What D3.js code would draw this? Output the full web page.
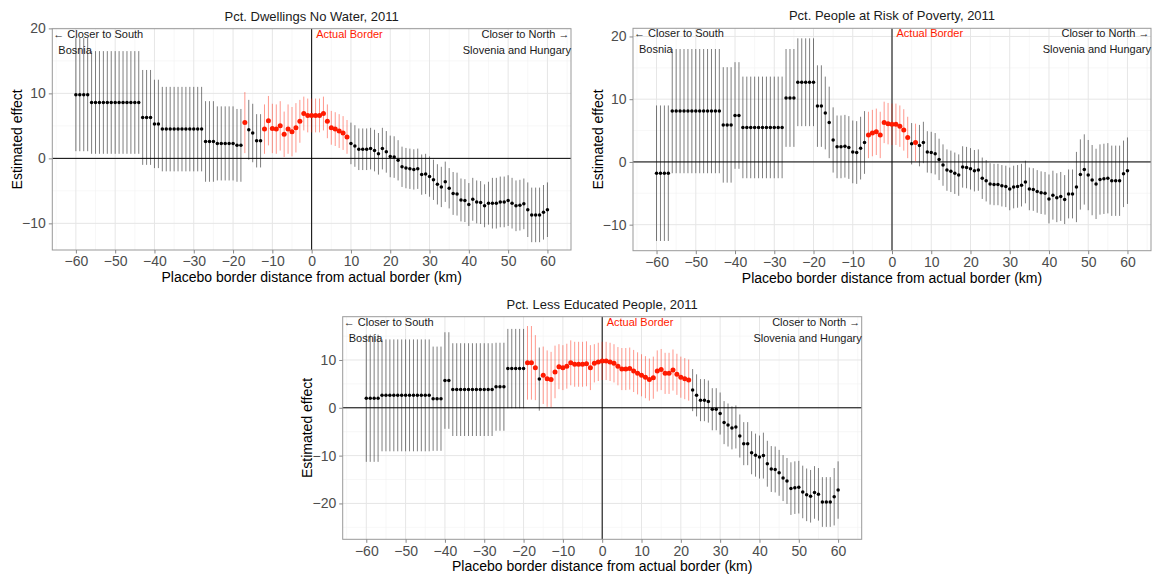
<!DOCTYPE html>
<html>
<head>
<meta charset="utf-8">
<script src="https://cdn.jsdelivr.net/npm/d3@7"></script>
<style>
  body { margin: 0; background: #fff; }
  svg text { font-family: "Liberation Sans", Arial, Helvetica, sans-serif; }
</style>
</head>
<body>
<svg id="chart" width="1152" height="577"></svg>
<script>
// Placebo border distance (km), one estimate per kilometre
const distance = [
  -60, -59, -58, -57, -56, -55, -54, -53, -52, -51, -50, -49, -48, -47, -46, -45, -44, -43, -42, -41,
  -40, -39, -38, -37, -36, -35, -34, -33, -32, -31, -30, -29, -28, -27, -26, -25, -24, -23, -22, -21,
  -20, -19, -18, -17, -16, -15, -14, -13, -12, -11, -10, -9, -8, -7, -6, -5, -4, -3, -2, -1,
  0, 1, 2, 3, 4, 5, 6, 7, 8, 9, 10, 11, 12, 13, 14, 15, 16, 17, 18, 19,
  20, 21, 22, 23, 24, 25, 26, 27, 28, 29, 30, 31, 32, 33, 34, 35, 36, 37, 38, 39,
  40, 41, 42, 43, 44, 45, 46, 47, 48, 49, 50, 51, 52, 53, 54, 55, 56, 57, 58, 59, 60
];

// Pct. Dwellings No Water: point estimates and 95% CI half-widths
const estWater = [
  9.8, 9.8, 9.8, 9.8,
  8.6, 8.6, 8.6, 8.6, 8.6, 8.6, 8.6, 8.6, 8.6, 8.6, 8.6, 8.6, 8.6,
  6.3, 6.3, 6.3, 5.3, 5.3,
  4.5, 4.5, 4.5, 4.5, 4.5, 4.5, 4.5, 4.5, 4.5, 4.5, 4.5,
  2.6, 2.6, 2.6, 2.3, 2.3, 2.3, 2.3, 2.3, 2.0, 2.0,
  5.5, 4.4, 3.9, 2.7, 2.7, 4.5, 5.8, 4.6, 4.5, 5.0, 3.7, 4.5, 4.1, 4.7, 5.7, 6.9, 6.6,
  6.6, 6.6, 6.6, 6.9, 5.7, 4.7, 4.5, 4.2, 3.9, 3.3,
  2.3, 1.9, 1.4, 1.4, 1.4, 1.5, 1.2, 0.7, 1.5, 1.0,
  0.3, 0.2, -0.3, -1.3, -1.5, -1.6, -1.7, -1.6, -2.5, -2.4,
  -2.8, -3.3, -4.0, -4.4, -3.6, -4.6, -5.4, -5.5, -6.4, -6.5,
  -7.1, -6.3, -6.7, -6.8, -7.3, -6.9, -6.9, -6.9, -6.7, -6.7,
  -6.5, -6.9, -7.3, -7.2, -7.0, -7.9, -8.7, -8.7, -8.7, -8.3, -7.9
];
const ciWater = [
  8.7, 8.7, 8.7, 8.7,
  7.9, 7.9, 7.9, 7.9, 7.9, 7.9, 7.9, 7.9, 7.9, 7.9, 7.9, 7.9, 7.9,
  7.3, 7.3, 7.3, 6.8, 6.8,
  6.5, 6.5, 6.5, 6.5, 6.5, 6.5, 6.5, 6.5, 6.5, 6.5, 6.5,
  6.2, 6.2, 6.2, 5.7, 5.7, 5.7, 5.7, 5.7, 5.6, 5.6,
  4.7, 4.6, 4.5, 4.1, 4.1, 3.8, 3.8, 3.8, 3.8, 3.8, 3.5, 3.8, 3.8, 3.8, 3.3, 2.6, 2.6,
  2.6, 2.6, 2.6, 2.6, 2.6, 2.6, 2.6, 2.6, 2.6, 2.6,
  3.2, 3.2, 3.2, 3.2, 3.2, 3.2, 3.2, 3.2, 3.2, 3.2,
  3.2, 3.2, 3.1, 3.1, 3.1, 3.1, 3.1, 3.1, 3.1, 3.1,
  3.1, 3.1, 3.1, 3.1, 3.1, 3.1, 3.3, 3.3, 3.3, 3.3,
  3.3, 3.3, 3.3, 3.3, 3.3, 3.3, 3.9, 3.9, 3.9, 3.9,
  3.9, 3.9, 3.9, 3.9, 3.9, 4.2, 4.2, 4.2, 4.2, 4.2, 4.2
];
const redWater = [-17, -12, -11, -10, -9, -8, -7, -6, -5, -4, -3, -2, -1, 0, 1, 2, 3, 4, 5, 6, 7, 8, 9];

// Pct. People at Risk of Poverty
const estPoverty = [
  -1.8, -1.8, -1.8, -1.8,
  8.1, 8.1, 8.1, 8.1, 8.1, 8.1, 8.1, 8.1, 8.1, 8.1, 8.1, 8.1, 8.1,
  5.9, 5.9, 5.9, 7.4, 7.4,
  5.5, 5.5, 5.5, 5.5, 5.5, 5.5, 5.5, 5.5, 5.5, 5.5, 5.5,
  10.2, 10.2, 10.2, 12.7, 12.7, 12.7, 12.7, 12.7, 8.9, 8.9,
  7.8, 6.3, 3.5, 2.4, 2.4, 2.5, 2.3, 1.6, 1.5, 2.2, 3.1, 4.3, 4.6, 4.8, 4.3, 6.3, 6.1,
  6.0, 6.0, 5.7, 5.1, 3.9, 2.9, 3.1, 2.6, 3.1, 1.6,
  1.5, 1.3, 0.4, -0.5, -1.3, -1.5, -1.8, -2.1, -0.8, -0.9,
  -1.1, -1.4, -1.3, -2.6, -3.0, -3.5, -3.6, -3.6, -3.8, -3.9,
  -4.3, -4.0, -3.9, -3.7, -3.2, -4.3, -4.4, -4.7, -4.9, -5.0,
  -5.9, -5.3, -5.7, -5.5, -6.0, -5.1, -5.1, -4.0, -2.0, -1.2,
  -2.1, -2.9, -3.5, -2.8, -2.7, -2.6, -3.0, -3.0, -3.0, -1.9, -1.4
];
const ciPoverty = [
  10.8, 10.8, 10.8, 10.8,
  9.9, 9.9, 9.9, 9.9, 9.9, 9.9, 9.9, 9.9, 9.9, 9.9, 9.9, 9.9, 9.9,
  9.2, 9.2, 9.2, 8.5, 8.5,
  8.1, 8.1, 8.1, 8.1, 8.1, 8.1, 8.1, 8.1, 8.1, 8.1, 8.1,
  7.8, 7.8, 7.8, 7.0, 7.0, 7.0, 7.0, 7.0, 6.5, 6.5,
  5.8, 5.7, 5.2, 5.0, 5.0, 5.0, 5.0, 5.0, 5.0, 5.0, 5.0, 3.7, 3.7, 3.7, 3.7, 3.3, 3.3,
  3.3, 3.3, 3.3, 3.3, 3.3, 3.3, 3.0, 3.3, 3.3, 3.3,
  3.3, 3.3, 3.3, 3.3, 3.3, 3.3, 3.3, 3.3, 3.3, 3.3,
  3.3, 3.3, 3.3, 3.3, 3.3, 3.3, 3.3, 3.3, 3.3, 3.3,
  3.4, 3.4, 3.4, 3.4, 3.4, 3.4, 3.4, 3.4, 3.4, 3.4,
  3.9, 3.9, 3.9, 3.9, 3.9, 3.9, 3.9, 5.6, 5.6, 5.6,
  5.6, 5.6, 5.6, 5.6, 5.6, 5.6, 5.6, 5.6, 5.6, 5.3, 5.3
];
const redPoverty = [-6, -5, -4, -3, -2, -1, 0, 1, 2, 3, 4, 6];

// Pct. Less Educated People
const estEducation = [
  2.0, 2.0, 2.0, 2.0,
  2.6, 2.6, 2.6, 2.6, 2.6, 2.6, 2.6, 2.6, 2.6, 2.6, 2.6, 2.6, 2.6,
  1.9, 1.9, 1.9, 5.7, 5.7,
  3.8, 3.8, 3.8, 3.8, 3.8, 3.8, 3.8, 3.8, 3.8, 3.8, 3.8,
  4.4, 4.4, 4.4, 8.2, 8.2, 8.2, 8.2, 8.2, 9.4, 9.4,
  8.4, 6.0, 6.8, 6.1, 5.9, 7.5, 8.6, 8.4, 8.7, 9.4, 9.1, 9.1, 9.1, 9.2, 8.4, 9.3, 9.6,
  9.8, 9.8, 9.6, 9.3, 8.7, 8.1, 8.1, 8.2, 7.7, 7.2,
  6.8, 6.4, 5.9, 6.3, 7.7, 8.0, 7.2, 7.2, 7.9, 7.0,
  6.4, 6.1, 5.8, 3.7, 2.6, 1.6, 1.6, 1.3, -0.3, -0.3,
  -1.2, -3.1, -3.6, -4.2, -4.0, -5.9, -7.5, -7.5, -9.4, -9.9,
  -10.3, -10.0, -11.7, -12.8, -12.9, -13.6, -14.7, -15.3, -16.9, -16.7,
  -16.6, -17.6, -18.2, -18.5, -17.7, -18.1, -19.7, -19.7, -19.7, -18.6, -17.2
];
const ciEducation = [
  13.3, 13.3, 13.3, 13.3,
  11.7, 11.7, 11.7, 11.7, 11.7, 11.7, 11.7, 11.7, 11.7, 11.7, 11.7, 11.7, 11.7,
  10.9, 10.9, 10.9, 10.1, 10.1,
  9.7, 9.7, 9.7, 9.7, 9.7, 9.7, 9.7, 9.7, 9.7, 9.7, 9.7,
  9.2, 9.2, 9.2, 8.3, 8.3, 8.3, 8.3, 8.3, 7.7, 7.7,
  6.8, 6.6, 6.0, 5.9, 5.8, 5.5, 4.7, 4.7, 4.7, 4.7, 4.7, 4.7, 4.7, 4.7, 4.7, 4.0, 4.0,
  4.0, 4.0, 4.0, 4.0, 4.0, 4.4, 4.4, 4.4, 4.4, 4.4,
  4.4, 4.4, 4.4, 4.4, 4.3, 4.3, 4.3, 4.3, 4.3, 4.3,
  4.3, 4.3, 4.3, 4.4, 4.4, 4.4, 4.4, 4.4, 4.4, 4.4,
  4.4, 4.5, 4.5, 4.5, 4.5, 4.5, 4.5, 4.5, 4.5, 4.5,
  4.5, 4.8, 4.8, 4.8, 4.8, 4.8, 4.8, 4.8, 5.5, 5.5,
  5.5, 5.5, 5.5, 5.5, 5.5, 5.5, 5.2, 5.2, 5.2, 6.0, 6.0
];
const redEducation = [-19, -18, -17, -15, -14, -13, -12, -11, -10, -9, -8, -7, -6, -5, -4, -3, -2, -1,
  0, 1, 2, 3, 4, 5, 6, 7, 8, 9, 10, 11, 12, 13, 14, 15, 16, 17, 18, 19, 20, 21, 22];

// Axis breaks
const xTicks = [-60, -50, -40, -30, -20, -10, 0, 10, 20, 30, 40, 50, 60];
const xMinor = [-65, -55, -45, -35, -25, -15, -5, 5, 15, 25, 35, 45, 55, 65];
const yTicksWater = [-10, 0, 10, 20];
const yTicksPoverty = [-10, 0, 10, 20];
const yTicksEducation = [-20, -10, 0, 10];

const panels = [
  { title: "Pct. Dwellings No Water, 2011", est: estWater, ci: ciWater, red: redWater,
    yTicks: yTicksWater, yDomain: [-14.1, 19.95], box: { left: 52.3, right: 571, top: 28.7, bottom: 250 } },
  { title: "Pct. People at Risk of Poverty, 2011", est: estPoverty, ci: ciPoverty, red: redPoverty,
    yTicks: yTicksPoverty, yDomain: [-14.15, 21.3], box: { left: 633, right: 1151, top: 28.3, bottom: 250.7 } },
  { title: "Pct. Less Educated People, 2011", est: estEducation, ci: ciEducation, red: redEducation,
    yTicks: yTicksEducation, yDomain: [-27.5, 19.05], box: { left: 342.7, right: 861.7, top: 316.7, bottom: 539.3 } }
];

const svg = d3.select("#chart");
svg.append("rect").attr("width", 1152).attr("height", 577).attr("fill", "#fff");

panels.forEach(p => {
  const b = p.box;
  const x = d3.scaleLinear().domain([-66, 66]).range([b.left, b.right]);
  const y = d3.scaleLinear().domain(p.yDomain).range([b.bottom, b.top]);
  const g = svg.append("g");

  // minor grid
  const yMinor = [];
  p.yTicks.forEach(t => [t - 5, t + 5].forEach(m => {
    if (m > p.yDomain[0] && m < p.yDomain[1] && !p.yTicks.includes(m) && !yMinor.includes(m)) yMinor.push(m);
  }));
  g.append("g").selectAll("line").data(xMinor).join("line")
    .attr("x1", d => x(d)).attr("x2", d => x(d)).attr("y1", b.top).attr("y2", b.bottom)
    .attr("stroke", "#f2f2f2").attr("stroke-width", 0.6);
  g.append("g").selectAll("line").data(yMinor).join("line")
    .attr("x1", b.left).attr("x2", b.right).attr("y1", d => y(d)).attr("y2", d => y(d))
    .attr("stroke", "#f2f2f2").attr("stroke-width", 0.6);
  // major grid
  g.append("g").selectAll("line").data(xTicks).join("line")
    .attr("x1", d => x(d)).attr("x2", d => x(d)).attr("y1", b.top).attr("y2", b.bottom)
    .attr("stroke", "#e6e6e6").attr("stroke-width", 1);
  g.append("g").selectAll("line").data(p.yTicks).join("line")
    .attr("x1", b.left).attr("x2", b.right).attr("y1", d => y(d)).attr("y2", d => y(d))
    .attr("stroke", "#e6e6e6").attr("stroke-width", 1);

  // reference lines: zero effect and the actual border
  g.append("line").attr("x1", b.left).attr("x2", b.right).attr("y1", y(0)).attr("y2", y(0))
    .attr("stroke", "#000").attr("stroke-width", 1);
  g.append("line").attr("x1", x(0)).attr("x2", x(0)).attr("y1", b.top).attr("y2", b.bottom)
    .attr("stroke", "#000").attr("stroke-width", 1);

  const rows = distance.map((d, i) => ({
    d, est: p.est[i], lo: p.est[i] - p.ci[i], hi: p.est[i] + p.ci[i], red: p.red.includes(d)
  }));

  // confidence intervals
  g.append("g").selectAll("line").data(rows).join("line")
    .attr("x1", r => x(r.d)).attr("x2", r => x(r.d))
    .attr("y1", r => y(r.lo)).attr("y2", r => y(r.hi))
    .attr("stroke", r => r.red ? "#ff1a00" : "#000")
    .attr("stroke-opacity", r => r.red ? 0.45 : 0.5)
    .attr("stroke-width", 1);

  // point estimates
  g.append("g").selectAll("circle").data(rows).join("circle")
    .attr("cx", r => x(r.d)).attr("cy", r => y(r.est))
    .attr("r", r => r.red ? 2.5 : 1.75)
    .attr("fill", r => r.red ? "#ff1a00" : "#000");

  // panel border
  g.append("rect").attr("x", b.left).attr("y", b.top)
    .attr("width", b.right - b.left).attr("height", b.bottom - b.top)
    .attr("fill", "none").attr("stroke", "#999").attr("stroke-width", 1);

  // axes
  const xAxis = g.append("g").attr("transform", `translate(0,${b.bottom})`)
    .call(d3.axisBottom(x).tickValues(xTicks).tickSize(3.5).tickPadding(3));
  const yAxis = g.append("g").attr("transform", `translate(${b.left},0)`)
    .call(d3.axisLeft(y).tickValues(p.yTicks).tickSize(3.5).tickPadding(3));
  [xAxis, yAxis].forEach(a => {
    a.select(".domain").remove();
    a.selectAll(".tick line").attr("stroke", "#888");
    a.selectAll(".tick text").attr("fill", "#4d4d4d").attr("font-size", 14)
      .attr("font-family", "'Liberation Sans', Arial, sans-serif");
  });

  // titles
  const cx = (b.left + b.right) / 2;
  g.append("text").attr("x", cx).attr("y", b.top - 12.5).attr("text-anchor", "middle")
    .attr("dominant-baseline", "central").attr("font-size", 13).attr("fill", "#1a1a1a").text(p.title);
  g.append("text").attr("x", cx).attr("y", b.bottom + 27).attr("text-anchor", "middle")
    .attr("dominant-baseline", "central").attr("font-size", 14).attr("fill", "#000")
    .text("Placebo border distance from actual border (km)");
  g.append("text").attr("transform", `translate(${b.left - 35.5},${(b.top + b.bottom) / 2}) rotate(-90)`)
    .attr("text-anchor", "middle").attr("dominant-baseline", "central")
    .attr("font-size", 14).attr("fill", "#000").text("Estimated effect");

  // direction annotations
  const ann = (tx, ty, anchor, txt, col) => g.append("text").attr("x", tx).attr("y", ty)
    .attr("text-anchor", anchor).attr("dominant-baseline", "central")
    .attr("font-size", 11).attr("fill", col).text(txt);
  ann(b.left + 1, b.top + 5, "start", "\u2190 Closer to South", "#1a1a1a");
  ann(b.left + 6, b.top + 21, "start", "Bosnia", "#1a1a1a");
  ann(x(0) + 4.5, b.top + 5, "start", "Actual Border", "#ff1a00");
  ann(b.right - 1.5, b.top + 5, "end", "Closer to North \u2192", "#1a1a1a");
  ann(b.right, b.top + 21, "end", "Slovenia and Hungary", "#1a1a1a");
});
</script>
</body>
</html>
